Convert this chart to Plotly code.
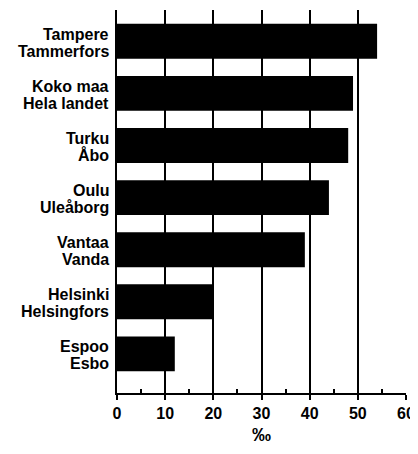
import plotly.graph_objects as go

# data
names_fi = ['Tampere', 'Koko maa', 'Turku', 'Oulu', 'Vantaa', 'Helsinki', 'Espoo']
names_sv = ['Tammerfors', 'Hela landet', 'Åbo', 'Uleåborg', 'Vanda',
            'Helsingfors', 'Esbo']
rates = [54, 49, 48, 44, 39, 20, 12]
x_ticks = [0, 10, 20, 30, 40, 50, 60]

FONT = dict(family='Liberation Sans, Arial, sans-serif', size=16, color='black')

fig = go.Figure(go.Bar(x=rates, y=names_fi, orientation='h',
                       marker=dict(color='black', line=dict(width=0)),
                       width=0.67))

# two-line right-aligned category labels
for fi, sv in zip(names_fi, names_sv):
    fig.add_annotation(x=0, xref='paper', y=fi, yref='y', text=f'<b>{fi}</b>',
                       xanchor='right', yanchor='middle', xshift=-7, yshift=7,
                       borderpad=0, showarrow=False, font=FONT)
    fig.add_annotation(x=0, xref='paper', y=fi, yref='y', text=f'<b>{sv}</b>',
                       xanchor='right', yanchor='middle', xshift=-7, yshift=-10,
                       borderpad=0, showarrow=False, font=FONT)

# page body has an 8px margin, so the figure is 8px smaller each way
fig.update_layout(
    width=410, height=446,
    margin=dict(l=109, r=12, t=2, b=61),
    plot_bgcolor='white', paper_bgcolor='white',
    font=FONT,
    showlegend=False,
)
fig.update_xaxes(range=[0, 60], tickvals=x_ticks,
                 ticktext=[f'<b>{v}</b>' for v in x_ticks],
                 showgrid=True, gridcolor='black', gridwidth=2,
                 showline=True, linecolor='black', linewidth=2,
                 ticks='outside', ticklen=5, tickwidth=2, tickcolor='black',
                 minor=dict(tickvals=[5, 15, 25, 35, 45, 55], ticks='inside',
                            ticklen=4, tickwidth=2, tickcolor='black',
                            showgrid=False),
                 zeroline=False, automargin=False,
                 title=dict(text='<b>‰</b>', standoff=6))
fig.update_yaxes(autorange=False, range=[6.75, -0.6],
                 showticklabels=False, automargin=False,
                 showline=True, linecolor='black', linewidth=2,
                 ticks='', showgrid=False)

fig.write_html('out.html')
